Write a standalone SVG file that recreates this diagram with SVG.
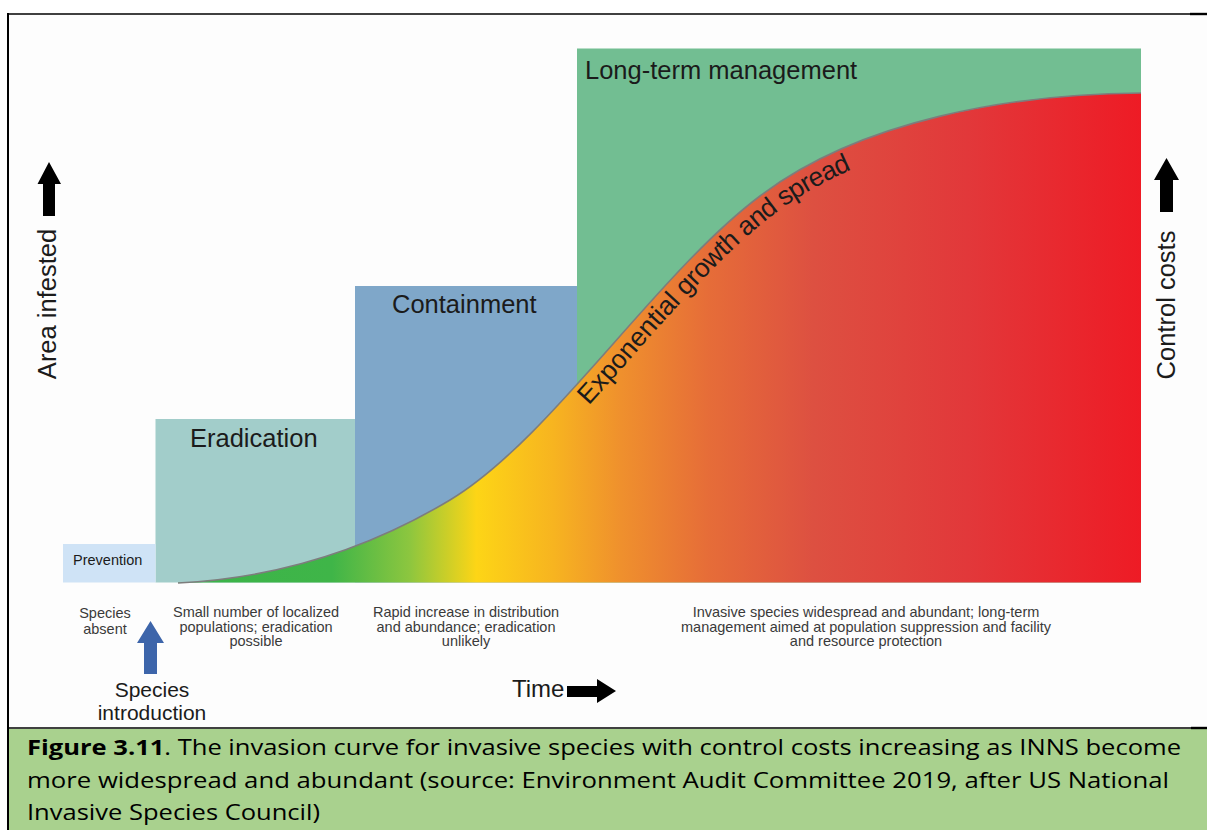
<svg xmlns="http://www.w3.org/2000/svg" xmlns:xlink="http://www.w3.org/1999/xlink" width="1207" height="830" viewBox="0 0 1207 830">
  <style>
    .t { font-family: "Liberation Sans", Arial, sans-serif; fill: #1b1b1b; }
    .big { font-size: 25.5px; }
    .desc { font-size: 14.5px; fill: #3a3a3a; text-anchor: middle; }
    .cap { font-family: "Open Sans", "Liberation Sans", sans-serif; font-size: 21px; fill: #000; }
    .arrow { fill: #000; }
    .frame { stroke: #000; fill: none; }
  </style>
  <defs>
    <linearGradient id="spread" gradientUnits="userSpaceOnUse" x1="178" y1="0" x2="1141" y2="0">
      <stop offset="0" stop-color="#3bb44a"/>
      <stop offset="0.16" stop-color="#3fb548"/>
      <stop offset="0.24" stop-color="#8cc63f"/>
      <stop offset="0.31" stop-color="#fdd516"/>
      <stop offset="0.39" stop-color="#f7b420"/>
      <stop offset="0.46" stop-color="#ef902d"/>
      <stop offset="0.55" stop-color="#e66d38"/>
      <stop offset="0.66" stop-color="#dd5041"/>
      <stop offset="0.82" stop-color="#e2383a"/>
      <stop offset="1" stop-color="#ee1b25"/>
    </linearGradient>
    <path id="curveLine" d="M178,583 C268,578.5 360,554 450,500 C550,440 655,275 760,196 C860,120 1011,94 1141,93"/>
  </defs>

  <!-- background and frame -->
  <rect x="0" y="0" width="1207" height="830" fill="#ffffff"/>
  <rect x="9" y="15" width="1198" height="713" fill="#fdfdfd"/>
  <rect x="9" y="729" width="1198" height="101" fill="#a9d18e"/>
  <line class="frame" x1="8" y1="14" x2="1207" y2="14" stroke-width="1.6"/>
  <line class="frame" x1="1190" y1="14" x2="1207" y2="14" stroke-width="2.4"/>
  <line class="frame" x1="8" y1="13" x2="8" y2="830" stroke-width="2"/>
  <line class="frame" x1="8" y1="728" x2="1207" y2="728" stroke-width="1.6"/>
  <line class="frame" x1="1191" y1="728" x2="1207" y2="728" stroke-width="2.4"/>

  <!-- stage boxes -->
  <g id="long-term-management">
    <rect x="577" y="48.5" width="564" height="534" fill="#72be92"/>
    <text class="t big" x="585" y="79">Long-term management</text>
  </g>
  <g id="containment">
    <rect x="355" y="286" width="222" height="296.5" fill="#7fa7c9"/>
    <text class="t big" x="392" y="313">Containment</text>
  </g>
  <g id="eradication">
    <rect x="155.5" y="419" width="199.5" height="163.5" fill="#a2cdca"/>
    <text class="t big" x="190" y="446.5">Eradication</text>
  </g>
  <g id="prevention">
    <rect x="63" y="544" width="92.5" height="38.5" fill="#cfe3f6"/>
    <text class="t" x="73" y="565" font-size="14.5" fill="#333">Prevention</text>
  </g>

  <!-- invasion curve -->
  <g id="invasion-curve">
    <path d="M178,583 C268,578.5 360,554 450,500 C550,440 655,275 760,196 C860,120 1011,94 1141,93 L1141,582.5 L178,582.5 Z" fill="url(#spread)"/>
    <use xlink:href="#curveLine" fill="none" stroke="#7d7d7d" stroke-width="1.6"/>
    <text class="t" font-size="26.5px" fill="#222"><textPath xlink:href="#curveLine" startOffset="452"><tspan dy="23">Exponential growth and spread</tspan></textPath></text>
  </g>

  <!-- axis labels -->
  <g id="area-infested">
    <text class="t big" transform="translate(56,304) rotate(-90)" text-anchor="middle">Area infested</text>
  </g>
  <g id="control-costs">
    <text class="t big" transform="translate(1175,305) rotate(-90)" text-anchor="middle">Control costs</text>
  </g>
  <g id="time">
    <text class="t" x="512" y="697" font-size="24px" fill="#111">Time</text>
  </g>
  <g id="species-introduction">
    <text class="t" x="152" y="697" font-size="21px" text-anchor="middle" fill="#222">Species</text>
    <text class="t" x="152" y="720" font-size="21px" text-anchor="middle" fill="#222">introduction</text>
  </g>

  <!-- stage descriptions -->
  <g id="desc-absent">
    <text class="t desc" x="105" y="618">Species</text>
    <text class="t desc" x="105" y="634">absent</text>
  </g>
  <g id="desc-eradication">
    <text class="t desc" x="256" y="617">Small number of localized</text>
    <text class="t desc" x="256" y="631.5">populations; eradication</text>
    <text class="t desc" x="256" y="646">possible</text>
  </g>
  <g id="desc-containment">
    <text class="t desc" x="466" y="617">Rapid increase in distribution</text>
    <text class="t desc" x="466" y="631.5">and abundance; eradication</text>
    <text class="t desc" x="466" y="646">unlikely</text>
  </g>
  <g id="desc-management">
    <text class="t desc" x="866" y="617">Invasive species widespread and abundant; long-term</text>
    <text class="t desc" x="866" y="631.5">management aimed at population suppression and facility</text>
    <text class="t desc" x="866" y="646">and resource protection</text>
  </g>

  <!-- connectors / arrows -->
  <g id="connectors">
    <polygon class="arrow" points="49,162 61,184 55,184 55,216 43,216 43,184 37.5,184"/>
    <polygon class="arrow" points="1166.5,158 1179,180 1173,180 1173,212 1160,212 1160,180 1154,180"/>
    <polygon points="150.5,621 164,643 157,643 157,674 144,674 144,643 137,643" fill="#3d65aa"/>
    <polygon class="arrow" points="567,686 597,686 597,679 616,691 597,703 597,697 567,697"/>
  </g>

  <!-- caption -->
  <g id="caption">
    <text class="cap" x="27" y="755" textLength="1154" lengthAdjust="spacingAndGlyphs"><tspan font-weight="bold">Figure 3.11</tspan>. The invasion curve for invasive species with control costs increasing as INNS become</text>
    <text class="cap" x="27" y="788" textLength="1142" lengthAdjust="spacingAndGlyphs">more widespread and abundant (source: Environment Audit Committee 2019, after US National</text>
    <text class="cap" x="27" y="820" textLength="293" lengthAdjust="spacingAndGlyphs">Invasive Species Council)</text>
  </g>
</svg>
